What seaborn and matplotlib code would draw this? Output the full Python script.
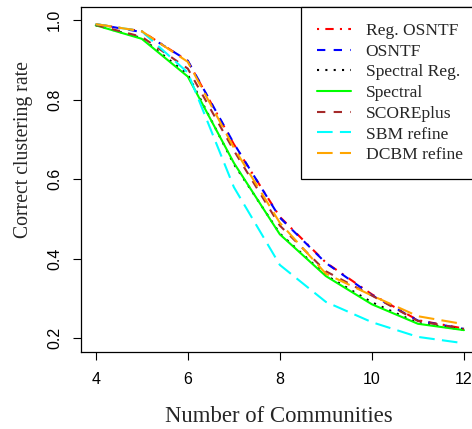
import numpy as np
import pandas as pd
import matplotlib
matplotlib.use("Agg")
import matplotlib.pyplot as plt
import seaborn as sns

# ---- data ----
communities = [4, 5, 6, 7, 8, 9, 10, 11, 12]
reg_osntf = [0.990, 0.972, 0.897, 0.688, 0.505, 0.390, 0.310, 0.245, 0.224]
osntf = [0.990, 0.970, 0.898, 0.690, 0.503, 0.389, 0.308, 0.244, 0.223]
spectral_reg = [0.987, 0.955, 0.863, 0.638, 0.463, 0.358, 0.290, 0.238, 0.221]
spectral = [0.987, 0.953, 0.858, 0.641, 0.461, 0.356, 0.285, 0.236, 0.220]
scoreplus = [0.988, 0.958, 0.878, 0.672, 0.483, 0.368, 0.307, 0.243, 0.223]
sbm_refine = [0.990, 0.972, 0.868, 0.580, 0.384, 0.291, 0.240, 0.203, 0.187]
dcbm_refine = [0.990, 0.972, 0.895, 0.679, 0.490, 0.362, 0.307, 0.255, 0.235]

method_names = ["Reg. OSNTF", "OSNTF", "Spectral Reg.", "Spectral",
                "SCOREplus", "SBM refine", "DCBM refine"]
series = [reg_osntf, osntf, spectral_reg, spectral, scoreplus, sbm_refine, dcbm_refine]
x_ticks = [4, 6, 8, 10, 12]
y_ticks = [0.2, 0.4, 0.6, 0.8, 1.0]

colors = {"Reg. OSNTF": "#FF0000", "OSNTF": "#0000FF", "Spectral Reg.": "#000000",
          "Spectral": "#00FF00", "SCOREplus": "#A52A2A", "SBM refine": "#00FFFF",
          "DCBM refine": "#FFA500"}
dash_styles = {"Reg. OSNTF": (1, 3, 4, 3), "OSNTF": (4, 4), "Spectral Reg.": (1, 3),
               "Spectral": "", "SCOREplus": (4, 4), "SBM refine": (7.5, 3.5),
               "DCBM refine": (7.5, 3.5)}

df = pd.DataFrame({
    "K": np.tile(communities, len(method_names)),
    "rate": np.concatenate(series),
    "Method": np.repeat(method_names, len(communities)),
})

sns.set_style("ticks")
plt.rcParams["font.family"] = ["Liberation Sans", "DejaVu Sans"]

W, H = 472, 429
fig = plt.figure(figsize=(W / 100, H / 100), dpi=100)
left, right, top, bottom = 81, 478.7, 7, 352
ax = fig.add_axes([left / W, 1 - bottom / H, (right - left) / W, (bottom - top) / H])

sns.lineplot(data=df, x="K", y="rate", hue="Method", style="Method",
             hue_order=method_names, style_order=method_names,
             palette=colors, dashes=dash_styles, markers=False,
             linewidth=1.5, ax=ax, legend=True)

ax.set_xlim(3.68, 12.32)
ax.set_ylim(0.165, 1.033)
ax.set_xticks(x_ticks)
ax.set_xticklabels([str(v) for v in x_ticks])
ax.set_yticks(y_ticks)
ax.set_yticklabels([f"{v:.1f}" for v in y_ticks], rotation=90, va="center")
ax.tick_params(direction="out", length=6, width=0.8, colors="black",
               labelsize=11.5, pad=8.5, bottom=True, left=True)
ax.tick_params(axis="y", pad=7.5)
for s in ax.spines.values():
    s.set_visible(True)
    s.set_color("black")
    s.set_linewidth(0.9)

serif = ["Liberation Serif", "DejaVu Serif"]
ax.set_xlabel("Number of Communities", fontsize=16.4, family=serif)
ax.xaxis.label.set_va("center")
ax.xaxis.set_label_coords((279 - left) / (right - left), (bottom - 416) / (bottom - top))
ax.set_ylabel("Correct clustering rate", fontsize=14.2, family=serif)
ax.yaxis.label.set_va("center")
ax.yaxis.set_label_coords((23 - left) / (right - left), (bottom - 150) / (bottom - top))

handles, labels = ax.get_legend_handles_labels()
if ax.legend_ is not None:
    ax.legend_.remove()
leg = fig.legend(handles, labels, loc="upper left",
                 bbox_to_anchor=(301 / W, 1 - 7 / H), bbox_transform=fig.transFigure,
                 borderaxespad=0, frameon=True, fancybox=False, framealpha=1,
                 edgecolor="black", prop={"family": serif, "size": 12.6},
                 handlelength=1.95, handletextpad=0.85, borderpad=0.9,
                 labelspacing=0.255)
leg.get_frame().set_linewidth(0.9)

fig.savefig("out.png", dpi=100)
